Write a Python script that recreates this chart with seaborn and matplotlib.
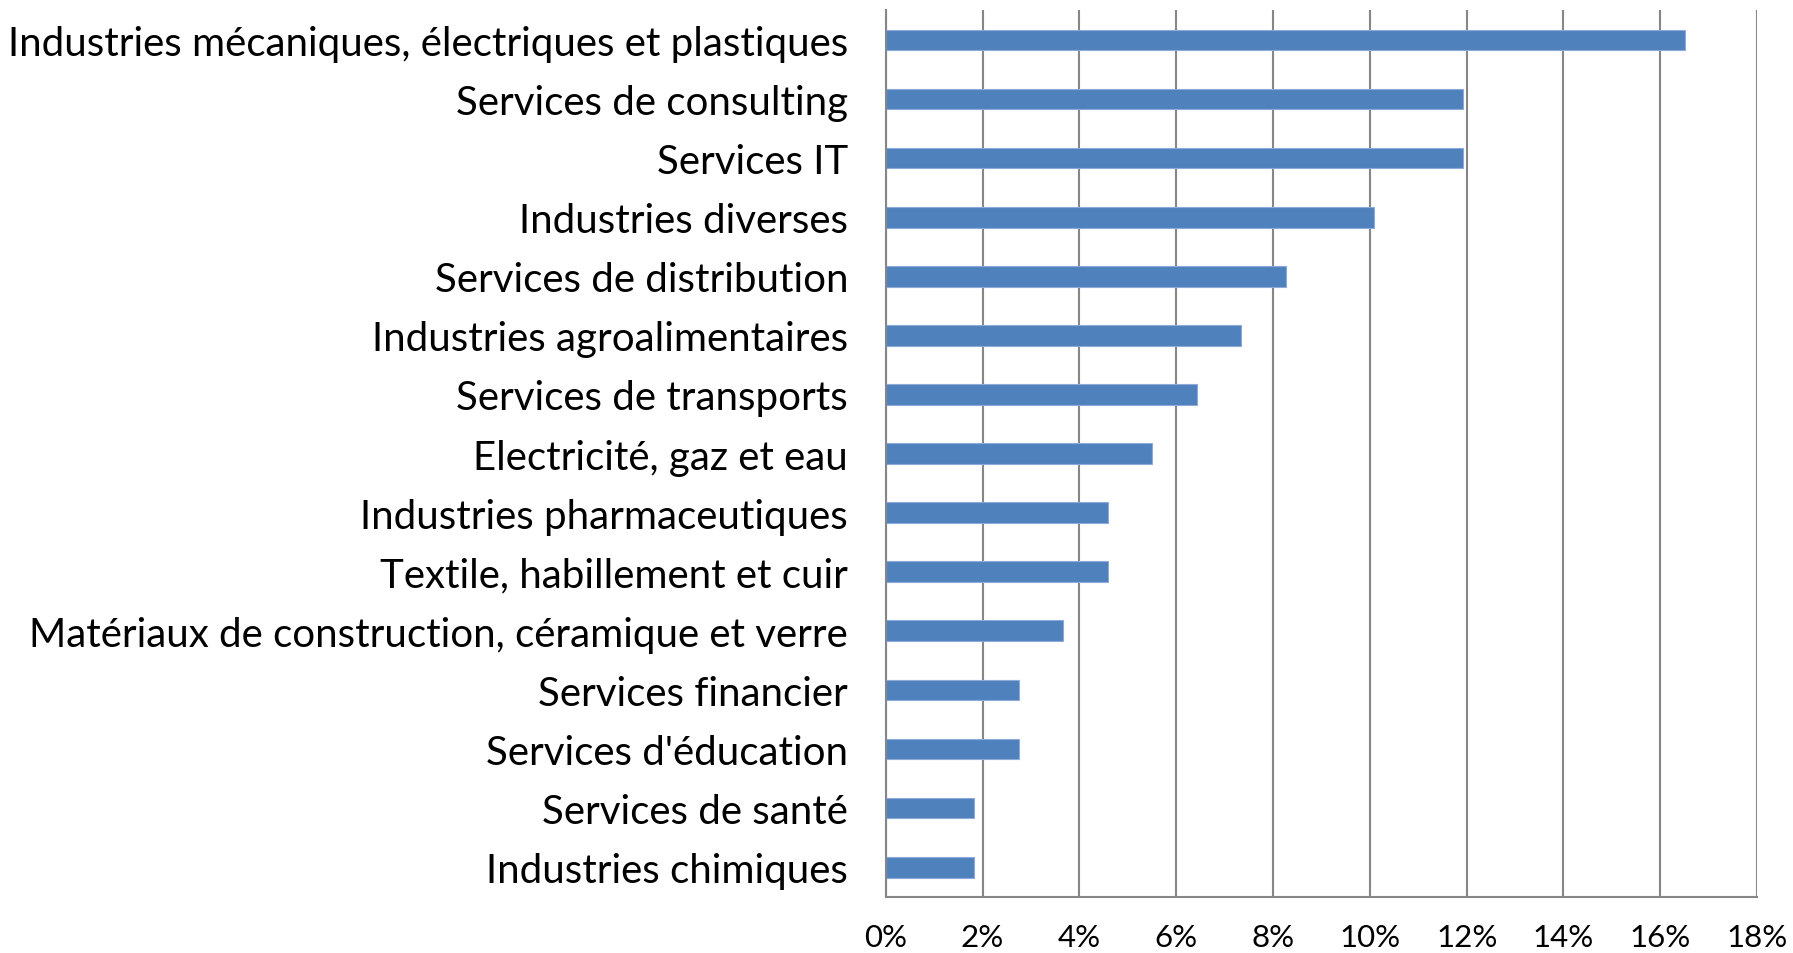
import matplotlib
matplotlib.use("Agg")
import matplotlib.pyplot as plt
import matplotlib.ticker as mticker
import seaborn as sns
import pandas as pd

# secteurs (du haut vers le bas)
secteurs = [
    "Industries mécaniques, électriques et plastiques",
    "Services de consulting",
    "Services IT",
    "Industries diverses",
    "Services de distribution",
    "Industries agroalimentaires",
    "Services de transports",
    "Electricité, gaz et eau",
    "Industries pharmaceutiques",
    "Textile, habillement et cuir",
    "Matériaux de construction, céramique et verre",
    "Services financier",
    "Services d'éducation",
    "Services de santé",
    "Industries chimiques",
]

# part en %
parts = [16.51, 11.93, 11.93, 10.09, 8.26, 7.34, 6.42, 5.50,
         4.59, 4.59, 3.67, 2.75, 2.75, 1.83, 1.83]

x_ticks = [0, 2, 4, 6, 8, 10, 12, 14, 16, 18]

sns.set_style("white")
plt.rcParams["font.family"] = ["Lato", "DejaVu Sans"]
plt.rcParams["text.color"] = "black"
plt.rcParams["xtick.color"] = "black"
plt.rcParams["ytick.color"] = "black"

df = pd.DataFrame({"Secteur": secteurs, "Part": parts})

fig = plt.figure(figsize=(17.93, 9.54), dpi=100)
ax = fig.add_axes([0.494, 0.059, 0.486, 0.929])

sns.barplot(data=df, x="Part", y="Secteur", orient="h", color="#4F81BD",
            width=0.35, saturation=1, edgecolor="#8EAADB", linewidth=0.8, ax=ax)

ax.set_xlim(0, 18)
ax.set_ylim(14.5, -0.5)
ax.set_xticks(x_ticks)
ax.xaxis.set_major_formatter(mticker.FuncFormatter(lambda v, p: f"{int(v)}%"))
ax.grid(axis="x", color="#868686", linewidth=1.5)
ax.set_axisbelow(True)
ax.set_xlabel("")
ax.set_ylabel("")

for s in ["top", "right"]:
    ax.spines[s].set_visible(False)
ax.spines["left"].set_color("#868686")
ax.spines["left"].set_linewidth(1.5)
ax.spines["bottom"].set_color("#868686")
ax.spines["bottom"].set_linewidth(1.5)

ax.tick_params(axis="y", length=0, pad=27, labelsize=29)
ax.tick_params(axis="x", length=0, pad=19, labelsize=22.5)

fig.savefig("out.png", dpi=100)
